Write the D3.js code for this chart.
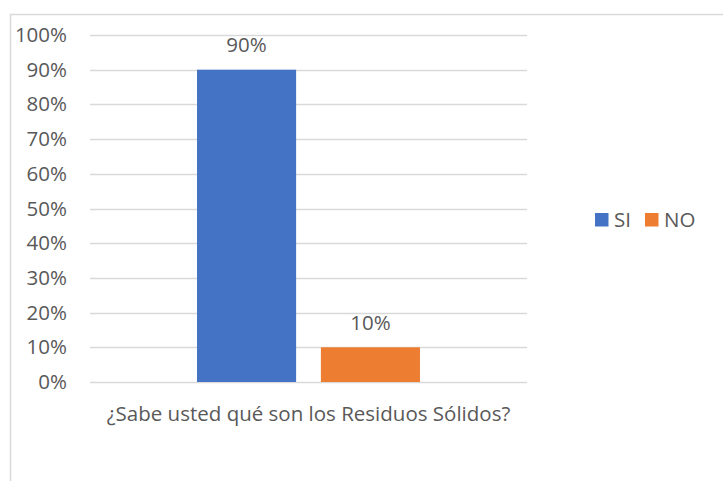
<!DOCTYPE html>
<html>
<head>
<meta charset="utf-8">
<script src="https://cdn.jsdelivr.net/npm/d3@7"></script>
<style>
  body { margin: 0; background: #fff; }
  svg text { font-family: "Open Sans", sans-serif; fill: #595959; }
</style>
</head>
<body>
<div id="chart"></div>
<script>
let width = 723, height = 481;

// data
let categories = ["¿Sabe usted qué son los Residuos Sólidos?"];
let seriesNames = ["SI", "NO"];
let seriesValues = [0.90, 0.10];
let tickValues = [0, 0.1, 0.2, 0.3, 0.4, 0.5, 0.6, 0.7, 0.8, 0.9, 1.0];

let colors = ["#4472C4", "#ED7D31"];

let margin = { top: 35, bottom: 99, left: 90, right: 196 };
let fontSize = "20.5px";

let svg = d3.select("#chart").append("svg")
  .attr("width", width)
  .attr("height", height);

// chart border
svg.append("rect")
  .attr("x", 10.5).attr("y", 14.5)
  .attr("width", 730).attr("height", 480)
  .attr("fill", "none")
  .attr("stroke", "#d9d9d9")
  .attr("stroke-width", 1.5);

let xScale = d3.scaleBand()
  .domain(categories)
  .range([margin.left, width - margin.right])
  .paddingInner(0)
  .paddingOuter(0.48);

let xInner = d3.scaleBand()
  .domain(seriesNames)
  .range([0, xScale.bandwidth()])
  .paddingInner(0.2)
  .paddingOuter(0);

let yScale = d3.scaleLinear()
  .domain([0, 1])
  .range([height - margin.bottom, margin.top]);

// gridlines
svg.append("g")
  .selectAll("line")
  .data(tickValues)
  .enter()
  .append("line")
    .attr("x1", margin.left)
    .attr("x2", width - margin.right)
    .attr("y1", d => Math.round(yScale(d)) + 0.5)
    .attr("y2", d => Math.round(yScale(d)) + 0.5)
    .attr("stroke", "#d9d9d9")
    .attr("stroke-width", 1.3);

// y axis labels
let yAxis = d3.axisLeft(yScale)
  .tickValues(tickValues)
  .tickFormat(d3.format(".0%"))
  .tickSize(0)
  .tickPadding(23);

let yg = svg.append("g")
  .attr("transform", `translate(${margin.left},0)`)
  .call(yAxis);
yg.select(".domain").remove();
yg.selectAll("text")
  .style("font-size", fontSize)
  .attr("fill", "#595959");

// bars
let bars = seriesNames.map((s, i) => ({ name: s, value: seriesValues[i], color: colors[i], cat: categories[0] }));

svg.selectAll(".bar")
  .data(bars)
  .enter()
  .append("rect")
    .attr("class", "bar")
    .attr("x", d => xScale(d.cat) + xInner(d.name))
    .attr("y", d => yScale(d.value))
    .attr("width", xInner.bandwidth())
    .attr("height", d => yScale(0) - yScale(d.value))
    .style("fill", d => d.color);

// data labels
svg.selectAll(".lbl")
  .data(bars)
  .enter()
  .append("text")
    .attr("class", "lbl")
    .attr("x", d => xScale(d.cat) + xInner(d.name) + xInner.bandwidth() / 2)
    .attr("y", d => yScale(d.value) - 17.5)
    .attr("text-anchor", "middle")
    .style("font-size", fontSize)
    .text(d => d3.format(".0%")(d.value));

// x axis category label
let xAxis = d3.axisBottom(xScale).tickSize(0).tickPadding(24.5);
let xg = svg.append("g")
  .attr("transform", `translate(0,${height - margin.bottom})`)
  .call(xAxis);
xg.select(".domain").remove();
xg.selectAll("text")
  .style("font-size", fontSize)
  .attr("fill", "#595959");

// legend
let legend = svg.append("g").attr("transform", "translate(595,213)");
let items = [{ name: seriesNames[0], x: 0 }, { name: seriesNames[1], x: 50 }];
items.forEach((it, i) => {
  legend.append("rect")
    .attr("x", it.x).attr("y", 0)
    .attr("width", 13.5).attr("height", 13.5)
    .style("fill", colors[i]);
  legend.append("text")
    .attr("x", it.x + 19).attr("y", 14)
    .style("font-size", fontSize)
    .text(it.name);
});
</script>
</body>
</html>
